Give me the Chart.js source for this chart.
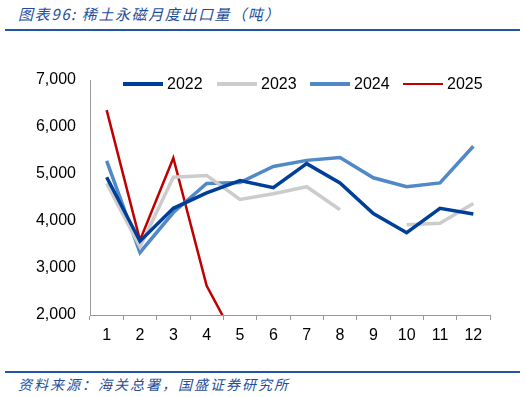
<!DOCTYPE html>
<html>
<head>
<meta charset="utf-8">
<script src="https://cdn.jsdelivr.net/npm/chart.js@4.4.0/dist/chart.umd.js"></script>
<style>
  body { margin: 0; width: 525px; height: 397px; background: #fff; position: relative; overflow: hidden; font-family: "Noto Sans CJK SC", sans-serif; }
  .title { position: absolute; left: 18px; top: 3px; font-size: 15px; font-style: italic; color: #1f4e9a; letter-spacing: 1.6px; }
  .rule { position: absolute; left: 5px; right: 5px; height: 2px; background: #2155a5; }
  .source { position: absolute; left: 18px; top: 374px; font-size: 14px; font-style: italic; color: #1f4e9a; letter-spacing: 2px; }
  #wrap { position: absolute; left: 0; top: 40px; width: 525px; height: 310px; }
  .leg { position: absolute; top: 74px; height: 20px; font-family: "Liberation Sans", Arial, sans-serif; font-size: 16px; color: #000; line-height: 20px; white-space: nowrap; }
  .leg i { display: inline-block; width: 40px; vertical-align: middle; margin-right: 4px; margin-top: -2px; }
</style>
</head>
<body>
<div class="title">图表96: 稀土永磁月度出口量（吨）</div>
<div class="rule" style="top:29px"></div>
<div id="wrap"><canvas id="chart"></canvas></div>
<div id="legend"></div>
<div class="rule" style="top:371px"></div>
<div class="source">资料来源：海关总署，国盛证券研究所</div>
<script>
// 月份
const months = ['1', '2', '3', '4', '5', '6', '7', '8', '9', '10', '11', '12'];

// 各年度出口量（吨）
const y2022 = [4930, 3570, 4270, 4600, 4860, 4710, 5220, 4810, 4160, 3750, 4270, 4150];
const y2023 = [4800, 3450, 4930, 4970, 4460, 4580, 4730, 4240, null, 3920, 3950, 4370];
const y2024 = [5280, 3330, 4180, 4800, 4820, 5160, 5290, 5350, 4920, 4730, 4810, 5590];
const y2025 = [6360, 3590, 5340, 2620, 1300, null, null, null, null, null, null, null];

const seriesNames = ['2022', '2023', '2024', '2025'];
const seriesColors = ['#003f98', '#cccccc', '#5088c8', '#c00000'];
const seriesWidths = [3.5, 3.5, 3.5, 2.5];

const tickFont = { family: 'Liberation Sans, Arial, sans-serif', size: 16 };

function makeSet(i, data) {
    return {
        label: seriesNames[i],
        data: data,
        borderColor: seriesColors[i],
        backgroundColor: seriesColors[i],
        borderWidth: seriesWidths[i],
        pointRadius: 0,
        pointHoverRadius: 0,
        tension: 0,
        spanGaps: false,
        clip: 0
    };
}

// 图例（画在绘图区上方）
const legendLeft = [123, 217, 310, 403];
const legendBox = document.getElementById('legend');
seriesNames.forEach(function(name, i) {
    const d = document.createElement('div');
    d.className = 'leg';
    d.style.left = legendLeft[i] + 'px';
    d.innerHTML = '<i style="height:' + seriesWidths[i] + 'px;background:' + seriesColors[i] + '"></i>' + name;
    legendBox.appendChild(d);
});

new Chart(document.getElementById('chart'), {
    type: 'line',
    data: {
        labels: months,
        datasets: [
            makeSet(0, y2022),
            makeSet(1, y2023),
            makeSet(2, y2024),
            makeSet(3, y2025)
        ]
    },
    options: {
        responsive: true,
        maintainAspectRatio: false,
        animation: false,
        layout: { padding: { top: 40, right: 35, left: 0, bottom: 0 } },
        plugins: {
            legend: { display: false },
            tooltip: { enabled: false }
        },
        scales: {
            x: {
                offset: true,
                afterFit: function(scale) { scale.height = 35; },
                grid: { offset: true, drawOnChartArea: false, drawTicks: true, tickLength: 5, color: '#999' },
                border: { display: true, color: '#999', width: 1 },
                ticks: { color: '#000', font: tickFont, padding: 6, maxRotation: 0 }
            },
            y: {
                min: 2000,
                max: 7000,
                afterFit: function(scale) { scale.width = 90; },
                grid: { drawOnChartArea: false, drawTicks: false },
                border: { display: true, color: '#999', width: 1 },
                ticks: {
                    stepSize: 1000,
                    color: '#000',
                    font: tickFont,
                    padding: 14,
                    callback: function(v) { return v.toLocaleString('en-US'); }
                }
            }
        }
    }
});
</script>
</body>
</html>
